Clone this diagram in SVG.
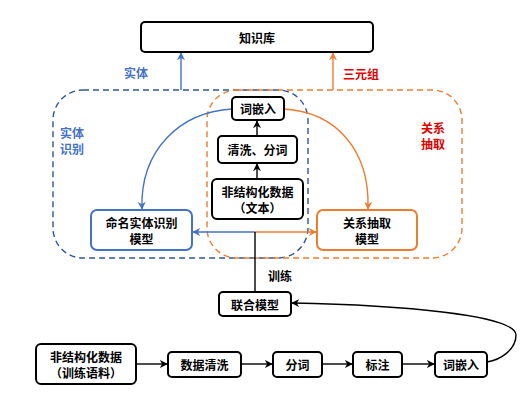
<svg xmlns="http://www.w3.org/2000/svg" width="532" height="409" viewBox="0 0 532 409">
<style>
text{font-family:"Noto Sans CJK SC","Noto Sans",sans-serif;font-weight:bold;font-size:12px;text-anchor:middle;dominant-baseline:central}
.n{fill:#fff;stroke:#000;stroke-width:2}
.nb{fill:#fff;stroke:#4472C4;stroke-width:2}
.no{fill:#fff;stroke:#ED7D31;stroke-width:2}
.k{fill:none;stroke:#000;stroke-width:1.4}
.b{fill:none;stroke:#4472C4;stroke-width:1.4}
.o{fill:none;stroke:#ED7D31;stroke-width:1.4}
.bt{fill:#4472C4}
.rt{fill:#E00000}
</style>
<defs>
<marker id="ak" viewBox="0 0 10 10" refX="9" refY="5" markerWidth="8" markerHeight="8" orient="auto-start-reverse" markerUnits="userSpaceOnUse"><path d="M0,0 L10,5 L0,10 L3,5 Z" fill="#000"/></marker>
<marker id="ab" viewBox="0 0 10 10" refX="9" refY="5" markerWidth="8" markerHeight="8" orient="auto-start-reverse" markerUnits="userSpaceOnUse"><path d="M0,0 L10,5 L0,10 L3,5 Z" fill="#4472C4"/></marker>
<marker id="ao" viewBox="0 0 10 10" refX="9" refY="5" markerWidth="8" markerHeight="8" orient="auto-start-reverse" markerUnits="userSpaceOnUse"><path d="M0,0 L10,5 L0,10 L3,5 Z" fill="#ED7D31"/></marker>
</defs>
<g id="regions">
<rect x="53" y="90" width="255" height="168" rx="30" fill="none" stroke="#2F5597" stroke-width="1.4" stroke-dasharray="6,4"/>
<rect x="207" y="90" width="255" height="168" rx="30" fill="none" stroke="#ED7D31" stroke-width="1.4" stroke-dasharray="6,4"/>
</g>
<g id="connectors">
<path class="b" d="M181,90 V53" marker-end="url(#ab)"/>
<path class="o" d="M333,90 V53" marker-end="url(#ao)"/>
<path class="b" d="M232,109 C180,112 140,150 142,209" marker-end="url(#ab)"/>
<path class="o" d="M284,109 C336,112 370,150 368,209" marker-end="url(#ao)"/>
<path class="k" d="M257,136 V121" marker-end="url(#ak)"/>
<path class="k" d="M257,179 V164" marker-end="url(#ak)"/>
<path class="b" d="M255,232 H193" marker-end="url(#ab)"/>
<path class="o" d="M255,232 H316" marker-end="url(#ao)"/>
<path class="k" d="M255,232 V292"/>
<path class="k" d="M136,364 H167" marker-end="url(#ak)"/>
<path class="k" d="M241,364 H272" marker-end="url(#ak)"/>
<path class="k" d="M322,364 H352" marker-end="url(#ak)"/>
<path class="k" d="M402,364 H434" marker-end="url(#ak)"/>
<path class="k" d="M487,362 C500,360 516,350 516,335 C516,315 400,305 292,303" marker-end="url(#ak)"/>
</g>
<g id="labels">
<text class="bt" x="136" y="72">实体</text>
<text class="rt" x="361" y="73">三元组</text>
<text class="bt" x="72" y="132">实体</text>
<text class="bt" x="72" y="148">识别</text>
<text class="rt" x="433" y="127">关系</text>
<text class="rt" x="433" y="143">抽取</text>
<text x="280" y="275">训练</text>
</g>
<g id="kb"><rect class="n" x="141" y="22" width="232" height="30" rx="4"/><text x="257" y="37">知识库</text></g>
<g id="embed1"><rect class="n" x="232" y="97" width="52" height="23" rx="4"/><text x="258" y="108.5">词嵌入</text></g>
<g id="clean1"><rect class="n" x="218" y="136" width="79" height="27" rx="4"/><text x="257.5" y="149.5">清洗、分词</text></g>
<g id="raw1"><rect class="n" x="212" y="179" width="91" height="40" rx="5"/><text x="257.5" y="191">非结构化数据</text><text x="257.5" y="207">（文本）</text></g>
<g id="ner"><rect class="nb" x="91" y="210" width="101" height="40" rx="6"/><text x="141.5" y="222">命名实体识别</text><text x="141.5" y="238">模型</text></g>
<g id="re"><rect class="no" x="317" y="210" width="100" height="40" rx="6"/><text x="367" y="222">关系抽取</text><text x="367" y="238">模型</text></g>
<g id="joint"><rect class="n" x="219" y="292" width="72" height="24" rx="4"/><text x="255" y="304">联合模型</text></g>
<g id="raw2"><rect class="n" x="36" y="344" width="100" height="40" rx="5"/><text x="86" y="356">非结构化数据</text><text x="86" y="372">（训练语料）</text></g>
<g id="clean2"><rect class="n" x="168" y="352" width="73" height="25" rx="4"/><text x="204.5" y="364.5">数据清洗</text></g>
<g id="seg"><rect class="n" x="273" y="352" width="49" height="25" rx="4"/><text x="297.5" y="364.5">分词</text></g>
<g id="tag"><rect class="n" x="353" y="352" width="49" height="25" rx="4"/><text x="377.5" y="364.5">标注</text></g>
<g id="embed2"><rect class="n" x="435" y="352" width="52" height="25" rx="4"/><text x="461" y="364.5">词嵌入</text></g>
</svg>
